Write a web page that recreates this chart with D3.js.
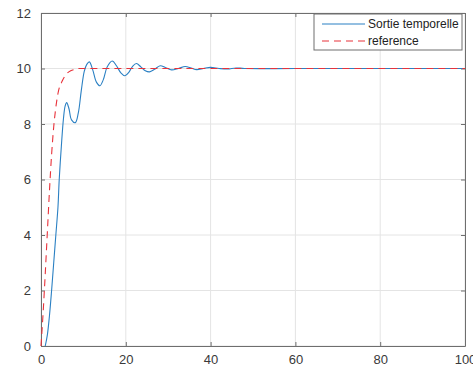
<!DOCTYPE html>
<html>
<head>
<meta charset="utf-8">
<script src="https://cdn.jsdelivr.net/npm/d3@7"></script>
<style>
  html, body { margin: 0; padding: 0; background: #fff; }
  svg { display: block; font-family: "Liberation Sans", Arial, sans-serif; }
</style>
</head>
<body>
<div id="chart"></div>
<script>
"use strict";

// ---------------------------------------------------------------------------
// Data
// ---------------------------------------------------------------------------

const xTicks = [0, 20, 40, 60, 80, 100];
const yTicks = [0, 2, 4, 6, 8, 10, 12];

const seriesNames = ["Sortie temporelle", "reference"];

// blue: system output
const outT = [1.0, 1.5, 2, 2.5, 3, 3.5, 4, 4.3, 4.8, 5.3, 5.7, 6.05, 6.6, 7.2, 8.1,
  8.8, 9.5, 10.2, 10.8, 11.4, 12.2, 13.1, 13.9, 14.7, 15.6, 16.8, 17.8, 18.8, 19.8,
  20.8, 21.6, 22.5, 23.6, 24.6, 25.6, 26.8, 28.1, 29.4, 30.8, 32.4, 34, 35.4, 36.7,
  38.3, 40, 42, 44, 46, 48, 60, 80, 100];
const outY = [0, 0.4, 1.1, 2.0, 3.0, 4.0, 5.0, 6.0, 7.2, 8.2, 8.65, 8.77, 8.55, 8.15, 8.05,
  8.4, 9.2, 9.9, 10.15, 10.24, 9.95, 9.5, 9.38, 9.6, 10.05, 10.27, 10.1, 9.85, 9.74,
  9.88, 10.08, 10.18, 10.05, 9.92, 9.88, 9.97, 10.1, 10.03, 9.95, 10.0, 10.07, 10.02, 9.96,
  10.0, 10.04, 10.0, 9.98, 10.02, 10.0, 10.0, 10.0, 10.0];

// red dashed: reference
const refT = [0, 0.5, 1, 1.5, 2, 2.5, 3, 3.5, 4, 5, 6, 7, 8, 9, 100];
const refY = [0, 1.2, 2.6, 4.1, 5.6, 6.9, 7.9, 8.6, 9.1, 9.55, 9.8, 9.92, 9.97, 10, 10];

// ---------------------------------------------------------------------------
// Layout
// ---------------------------------------------------------------------------

const width = 473;
const height = 370;
const margin = { top: 13, right: 8, bottom: 24, left: 41 };

const x = d3.scaleLinear().domain([0, 100]).range([margin.left, width - margin.right]);
const y = d3.scaleLinear().domain([0, 12]).range([height - margin.bottom, margin.top]);

const svg = d3.select("#chart")
  .append("svg")
  .attr("width", width)
  .attr("height", height);

const axisColor = "#6e6e6e";
const textColor = "#3a3a3a";
const blue = "#2b80c3";
const red = "#e8323a";
const dash = "7,5";

// grid
svg.append("g")
  .selectAll("line")
  .data(xTicks)
  .join("line")
  .attr("x1", (d) => x(d)).attr("x2", (d) => x(d))
  .attr("y1", y(0)).attr("y2", y(12))
  .attr("stroke", "#e4e4e4").attr("stroke-width", 1);

svg.append("g")
  .selectAll("line")
  .data(yTicks)
  .join("line")
  .attr("x1", x(0)).attr("x2", x(100))
  .attr("y1", (d) => y(d)).attr("y2", (d) => y(d))
  .attr("stroke", "#e4e4e4").attr("stroke-width", 1);

// axes (ticks inside, MATLAB style, on all four sides)
const tickLen = 4;
const bottomAxis = svg.append("g")
  .attr("transform", `translate(0,${y(0)})`)
  .call(d3.axisBottom(x).tickValues(xTicks).tickSizeInner(-tickLen).tickSizeOuter(0).tickPadding(9));
const topAxis = svg.append("g")
  .attr("transform", `translate(0,${y(12)})`)
  .call(d3.axisTop(x).tickValues(xTicks).tickSizeInner(-tickLen).tickSizeOuter(0).tickFormat(""));
const leftAxis = svg.append("g")
  .attr("transform", `translate(${x(0)},0)`)
  .call(d3.axisLeft(y).tickValues(yTicks).tickSizeInner(-tickLen).tickSizeOuter(0).tickPadding(10));
const rightAxis = svg.append("g")
  .attr("transform", `translate(${x(100)},0)`)
  .call(d3.axisRight(y).tickValues(yTicks).tickSizeInner(-tickLen).tickSizeOuter(0).tickFormat(""));

[bottomAxis, topAxis, leftAxis, rightAxis].forEach((g) => {
  g.select(".domain").attr("stroke", axisColor);
  g.selectAll(".tick line").attr("stroke", axisColor);
  g.selectAll(".tick text")
    .attr("fill", textColor)
    .attr("font-size", "13px")
    .attr("font-family", "Liberation Sans, Arial, sans-serif");
});

// lines
const refLine = d3.line()
  .x((d) => x(d[0]))
  .y((d) => y(d[1]))
  .curve(d3.curveMonotoneX);

const outLine = d3.line()
  .x((d) => x(d[0]))
  .y((d) => y(d[1]))
  .curve(d3.curveCatmullRom.alpha(0.5));

svg.append("path")
  .datum(d3.zip(outT, outY))
  .attr("fill", "none")
  .attr("stroke", blue)
  .attr("stroke-width", 1.1)
  .attr("d", outLine);

svg.append("path")
  .datum(d3.zip(refT, refY))
  .attr("fill", "none")
  .attr("stroke", red)
  .attr("stroke-width", 1.1)
  .attr("stroke-dasharray", dash)
  .attr("d", refLine);

// legend
const legend = svg.append("g").attr("transform", "translate(314,14)");
legend.append("rect")
  .attr("width", 148).attr("height", 36)
  .attr("fill", "#fff")
  .attr("stroke", axisColor).attr("stroke-width", 1);

const legendStyles = [
  { color: blue, dash: null },
  { color: red, dash: dash },
];

seriesNames.forEach((name, i) => {
  const ly = 10 + i * 17;
  legend.append("line")
    .attr("x1", 8).attr("x2", 51)
    .attr("y1", ly).attr("y2", ly)
    .attr("stroke", legendStyles[i].color)
    .attr("stroke-width", 1.1)
    .attr("stroke-dasharray", legendStyles[i].dash);
  legend.append("text")
    .attr("x", 54).attr("y", ly + 4)
    .attr("fill", "#222")
    .attr("font-size", "12px")
    .text(name);
});
</script>
</body>
</html>
